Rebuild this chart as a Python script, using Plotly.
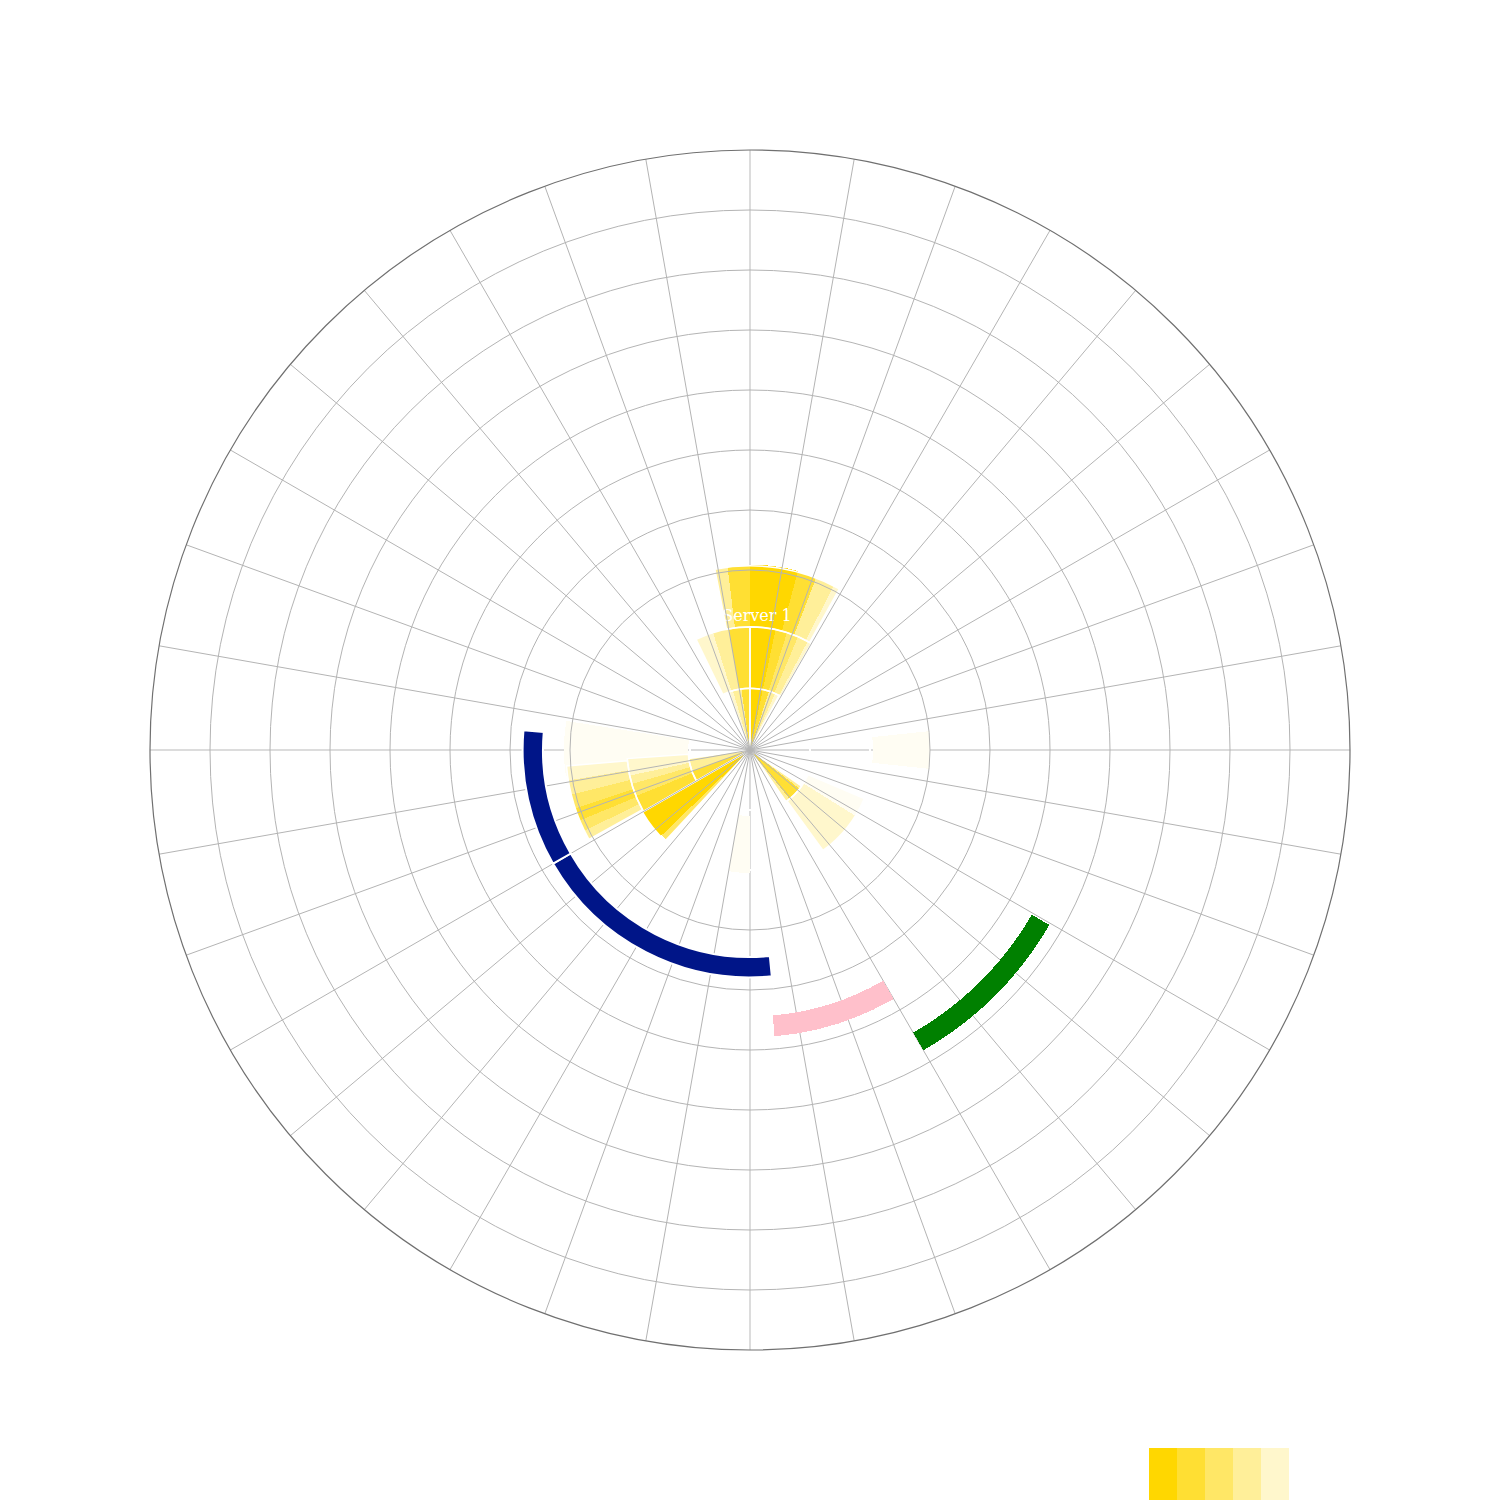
import plotly.graph_objects as go

# ---------------- data ----------------
# shade colours (gold at decreasing strength)
shade_colors = ["#FFFDF3", "#FFF7CC", "#FFEF99", "#FFE766", "#FFDF33", "#FFD700"]

# faint shade wedges: start angle, end angle, base radius, top radius
faint_start = [262, 84, 180, 113]
faint_end = [279, 96, 190, 122]
faint_base = [1.03, 2.05, 1.10, 1.05]
faint_top = [3.10, 3.00, 2.05, 2.07]

g20_start = [-11, -26, -20, 241, 240, 122]
g20_end = [29, 30, 28, 265, 266, 144]
g20_base = [2.05, 1.03, 0.0, 2.05, 1.03, 1.05]
g20_top = [3.07, 2.05, 1.03, 3.07, 2.05, 2.07]

g40_start = [-11, -17.5, -16, 241, 240, 240, 125]
g40_end = [27, 28, 24, 260.5, 258, 262, 145]
g40_base = [2.05, 1.03, 0.0, 2.05, 1.03, 0.0, 0.0]
g40_top = [3.07, 2.05, 1.03, 3.07, 2.05, 1.03, 1.05]

g60_start = [-10, 244, 240, 223]
g60_end = [23, 256, 254, 240]
g60_base = [1.03, 2.05, 1.03, 0.0]
g60_top = [2.05, 3.07, 2.05, 2.05]

g80_start = [-7, -10, -8, 247.5, 240, 240, 128]
g80_end = [21, 17.5, 18, 251.5, 248, 250, 141]
g80_base = [2.05, 1.03, 0.0, 2.05, 1.03, 0.0, 0.0]
g80_top = [3.07, 2.05, 1.03, 3.07, 2.05, 1.03, 1.05]

g100_start = [0, 0, 0, 226]
g100_end = [15, 12, 12, 240]
g100_base = [2.05, 1.03, 0.0, 0.0]
g100_top = [3.09, 2.05, 1.03, 2.07]

# stack segment outlines
seg_start = [-11, -26, 0, -20, 0, 241, 240, 223, 240, 125, 113]
seg_end = [29, 0, 30, 0, 28, 265, 266, 240, 262, 145, 144]
seg_base = [2.05, 1.03, 1.03, 0.0, 0.0, 2.05, 1.03, 0.0, 0.0, 0.0, 1.05]
seg_top = [3.07, 2.05, 2.05, 1.03, 1.03, 3.07, 2.05, 2.07, 1.03, 1.05, 2.07]

# timeline arcs
navy_start = [174.5, 240]
navy_end = [240, 275]
navy_base = [3.45, 3.45]
navy_top = [3.79, 3.79]

pink_start = [150]
pink_end = [175.1]
pink_base = [4.44]
pink_top = [4.79]

green_start = [120.3]
green_end = [150]
green_base = [5.44]
green_top = [5.78]

label_text = ["Server 1"]
label_r = [2.22]
label_theta = [3]

swatch_x = [0, 1, 2, 3, 4]
swatch_y = [1, 1, 1, 1, 1]
swatch_colors = ["#FFD700", "#FFDF33", "#FFE766", "#FFEF99", "#FFF7CC"]

spoke_angles = [a for a in range(0, 360, 10) if a % 90 != 0]


def wedge(start, end, base, top, color, line_color=None, line_width=0, subplot="polar"):
    theta = [(s + e) / 2 for s, e in zip(start, end)]
    width = [e - s for s, e in zip(start, end)]
    length = [t - b for b, t in zip(base, top)]
    return go.Barpolar(
        theta=theta, width=width, base=base, r=length,
        marker=dict(color=color, line=dict(color=line_color or "rgba(0,0,0,0)", width=line_width)),
        subplot=subplot, showlegend=False, hoverinfo="skip",
    )


fig = go.Figure()
fig.add_trace(wedge(faint_start, faint_end, faint_base, faint_top, shade_colors[0]))
fig.add_trace(wedge(g20_start, g20_end, g20_base, g20_top, shade_colors[1]))
fig.add_trace(wedge(g40_start, g40_end, g40_base, g40_top, shade_colors[2]))
fig.add_trace(wedge(g60_start, g60_end, g60_base, g60_top, shade_colors[3]))
fig.add_trace(wedge(g80_start, g80_end, g80_base, g80_top, shade_colors[4]))
fig.add_trace(wedge(g100_start, g100_end, g100_base, g100_top, shade_colors[5]))
fig.add_trace(wedge(seg_start, seg_end, seg_base, seg_top, "rgba(0,0,0,0)", "white", 1.5))

fig.add_trace(go.Scatterpolar(
    r=label_r, theta=label_theta, text=label_text, mode="text",
    textfont=dict(color="white", size=16, family="DejaVu Serif"),
    subplot="polar", showlegend=False, hoverinfo="skip",
))

# arcs live on the overlay polar (drawn above its grid)
fig.add_trace(wedge(navy_start, navy_end, navy_base, navy_top, "#001588", "white", 2, subplot="polar2"))
fig.add_trace(wedge(pink_start, pink_end, pink_base, pink_top, "#FFC0CB", subplot="polar2"))
fig.add_trace(wedge(green_start, green_end, green_base, green_top, "#008000", subplot="polar2"))

fig.add_trace(go.Bar(x=swatch_x, y=swatch_y, marker=dict(color=swatch_colors, line=dict(width=0)),
                     xaxis="x", yaxis="y", showlegend=False, hoverinfo="skip"))

common_domain = dict(x=[0.094667, 0.894667], y=[0.105333, 0.905333])

fig.update_layout(
    width=1500, height=1500,
    margin=dict(l=0, r=0, t=0, b=0),
    paper_bgcolor="white", plot_bgcolor="rgba(0,0,0,0)",
    showlegend=False, bargap=0,
    polar=dict(
        domain=common_domain, bgcolor="white", barmode="overlay", hole=0,
        angularaxis=dict(rotation=90, direction="clockwise", tickmode="array",
                         tickvals=[0, 90, 180, 270], showticklabels=False, ticks="",
                         showgrid=True, gridcolor="#DCDCDC", gridwidth=2, showline=False),
        radialaxis=dict(range=[0, 10], tickvals=[1, 2], showticklabels=False, ticks="",
                        showgrid=True, gridcolor="white", gridwidth=2, showline=False),
    ),
    polar2=dict(
        domain=common_domain, bgcolor="rgba(0,0,0,0)", barmode="overlay",
        angularaxis=dict(rotation=90, direction="clockwise", tickmode="array",
                         tickvals=spoke_angles, showticklabels=False, ticks="",
                         showgrid=True, gridcolor="#B4B4B4", gridwidth=1,
                         showline=True, linecolor="#707070", linewidth=1.2),
        radialaxis=dict(range=[0, 10], tickvals=[3, 4, 5, 6, 7, 8, 9], showticklabels=False,
                        ticks="", showgrid=True, gridcolor="#B4B4B4", gridwidth=1, showline=False),
    ),
    xaxis=dict(domain=[0.760667, 0.854], range=[-0.5, 4.5], visible=False, fixedrange=True),
    yaxis=dict(domain=[0.0, 0.04], range=[0, 1], visible=False, fixedrange=True),
)

fig.write_html("out.html")
